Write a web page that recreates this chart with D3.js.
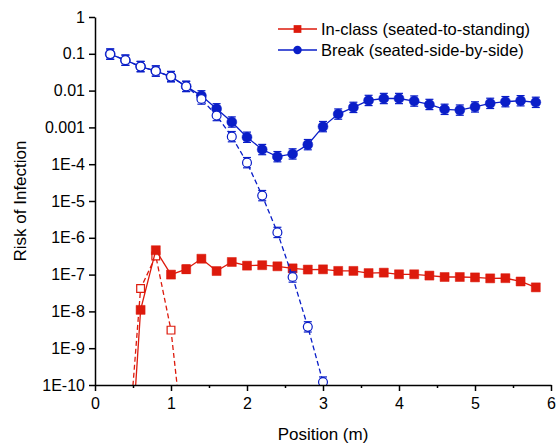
<!DOCTYPE html>
<html><head><meta charset="utf-8">
<script src="https://cdn.jsdelivr.net/npm/d3@7"></script>
<style>body{margin:0;background:#fff}svg{display:block}text{font-family:"Liberation Sans",Arial,sans-serif}</style>
</head><body><svg id="c" width="558" height="448"></svg>
<script>
// ---- data ----
const xTickValues = [0, 1, 2, 3, 4, 5, 6];
const yTickValues = [1, 0.1, 0.01, 0.001, 1e-4, 1e-5, 1e-6, 1e-7, 1e-8, 1e-9, 1e-10];
const yTickLabels = ["1", "0.1", "0.01", "0.001", "1E-4", "1E-5", "1E-6", "1E-7", "1E-8", "1E-9", "1E-10"];
const seriesNames = ["In-class (seated-to-standing)", "Break (seated-side-by-side)"];

const inClassX = [0.4,0.6,0.8,1.0,1.2,1.4,1.6,1.8,2.0,2.2,2.4,2.6,2.8,3.0,3.2,3.4,3.6,3.8,4.0,4.2,4.4,4.6,4.8,5.0,5.2,5.4,5.6,5.8];
const inClassY = [5.5e-15,1.1e-8,4.6e-7,1.0e-7,1.4e-7,2.7e-7,1.25e-7,2.2e-7,1.75e-7,1.8e-7,1.68e-7,1.48e-7,1.37e-7,1.39e-7,1.26e-7,1.26e-7,1.10e-7,1.13e-7,1.02e-7,1.02e-7,9.4e-8,8.6e-8,8.6e-8,8.4e-8,7.9e-8,8.0e-8,6.5e-8,4.5e-8];
const inClassErr = [0.15,0.15,0.15,0.15,0.3,0.15,0.15,0.15,0.15,0.15,0.15,0.15,0.15,0.15,0.15,0.15,0.15,0.15,0.15,0.15,0.15,0.15,0.15,0.15,0.15,0.15,0.15,0.22];

const inClassOpenX = [0.4,0.6,0.8,1.0,1.2];
const inClassOpenY = [2.4e-13,4.2e-8,3.2e-7,3.1e-9,5.8e-13];
const inClassOpenErr = [0.15,0.15,0.15,0.15,0.15];

const breakX = [0.2,0.4,0.6,0.8,1.0,1.2,1.4,1.6,1.8,2.0,2.2,2.4,2.6,2.8,3.0,3.2,3.4,3.6,3.8,4.0,4.2,4.4,4.6,4.8,5.0,5.2,5.4,5.6,5.8];
const breakY = [0.098,0.067,0.045,0.034,0.024,0.013,0.0072,0.0032,0.0014,5.4e-4,2.5e-4,1.6e-4,1.9e-4,3.4e-4,1.05e-3,2.3e-3,3.5e-3,5.4e-3,6.1e-3,6.1e-3,5.2e-3,4.2e-3,3.1e-3,2.95e-3,3.6e-3,4.5e-3,5.0e-3,5.3e-3,4.8e-3];
const breakErr = [0.38,0.38,0.38,0.38,0.38,0.38,0.38,0.38,0.38,0.38,0.38,0.38,0.38,0.38,0.38,0.38,0.38,0.38,0.38,0.38,0.38,0.38,0.38,0.38,0.38,0.38,0.38,0.38,0.38];

const breakOpenX = [0.2,0.4,0.6,0.8,1.0,1.2,1.4,1.6,1.8,2.0,2.2,2.4,2.6,2.8,3.0];
const breakOpenY = [0.098,0.067,0.045,0.034,0.024,0.013,0.0059,0.0021,5.6e-4,1.1e-4,1.4e-5,1.4e-6,8.6e-8,3.8e-9,1.2e-10];
const breakOpenErr = [0.38,0.38,0.38,0.38,0.38,0.38,0.38,0.38,0.38,0.38,0.38,0.38,0.38,0.38,0.38];

// ---- layout ----
const RED = "#dd1a0c", BLUE = "#0a1ec8";
const L = 95, R = 551, T = 17, B = 385;
const svg = d3.select("#c");
const x = d3.scaleLinear().domain([0, 6]).range([L, R]);
const y = d3.scaleLog().domain([1e-10, 1]).range([B, T]);

svg.append("clipPath").attr("id", "clip").append("rect")
  .attr("x", L).attr("y", T - 10).attr("width", R - L + 10).attr("height", B - T + 10);

const zip = (xs, ys, es) => xs.map((v, i) => ({x: v, y: ys[i], e: es[i]}));
const plot = svg.append("g").attr("clip-path", "url(#clip)");

function drawSeries(data, color, dashed, open, shape) {
  const g = plot.append("g");
  const line = d3.line().x(d => x(d.x)).y(d => y(d.y));
  g.append("path").datum(data).attr("d", line).attr("fill", "none")
    .attr("stroke", color).attr("stroke-width", 1.3)
    .attr("stroke-dasharray", dashed ? "5,3" : null);
  const vis = data.filter(d => d.y >= 1e-10);
  const eb = g.selectAll(".eb").data(vis).enter().append("g").attr("stroke", color).attr("stroke-width", 1.2);
  eb.append("line").attr("x1", d => x(d.x)).attr("x2", d => x(d.x))
    .attr("y1", d => y(d.y * (1 + d.e))).attr("y2", d => y(d.y / (1 + d.e)));
  eb.append("line").attr("x1", d => x(d.x) - 4).attr("x2", d => x(d.x) + 4)
    .attr("y1", d => y(d.y * (1 + d.e))).attr("y2", d => y(d.y * (1 + d.e)));
  eb.append("line").attr("x1", d => x(d.x) - 4).attr("x2", d => x(d.x) + 4)
    .attr("y1", d => y(d.y / (1 + d.e))).attr("y2", d => y(d.y / (1 + d.e)));
  const sym = d3.symbol().type(shape === "square" ? d3.symbolSquare : d3.symbolCircle)
    .size(shape === "square" ? (open ? 60 : 81) : (open ? 62 : 78));
  g.selectAll(".m").data(vis).enter().append("path")
    .attr("transform", d => `translate(${x(d.x)},${y(d.y)})`)
    .attr("d", sym)
    .attr("fill", open ? "#fff" : color)
    .attr("stroke", color).attr("stroke-width", open ? 1.2 : 0.5);
}

drawSeries(zip(inClassOpenX, inClassOpenY, inClassOpenErr), RED, true, true, "square");
drawSeries(zip(inClassX, inClassY, inClassErr), RED, false, false, "square");
drawSeries(zip(breakX, breakY, breakErr), BLUE, false, false, "circle");
drawSeries(zip(breakOpenX, breakOpenY, breakOpenErr), BLUE, true, true, "circle");

// ---- axes ----
const xAxis = svg.append("g").attr("transform", `translate(0,${B})`)
  .call(d3.axisBottom(x).tickValues(xTickValues).tickFormat(d3.format("d")).tickSize(6).tickSizeOuter(0));
svg.append("g").attr("transform", `translate(0,${B})`)
  .call(d3.axisBottom(x).tickValues(d3.range(0.5, 6, 1)).tickFormat("").tickSize(3).tickSizeOuter(0))
  .select(".domain").remove();
const yAxis = svg.append("g").attr("transform", `translate(${L},0)`)
  .call(d3.axisLeft(y).tickValues(yTickValues).tickFormat((d, i) => yTickLabels[i]).tickSize(6).tickSizeOuter(0));
[xAxis, yAxis].forEach(a => {
  a.select(".domain").attr("stroke", "#000").attr("stroke-width", 1.5);
  a.selectAll(".tick text").attr("font-size", 16).attr("fill", "#000")
    .style("font-family", '"Liberation Sans", Arial, sans-serif');
});
svg.selectAll("g.tick line").attr("stroke", "#000").attr("stroke-width", 1.5);
xAxis.selectAll(".tick text").attr("dy", "0.95em");
yAxis.selectAll(".tick text").attr("x", -10);

svg.append("text").attr("x", (L + R) / 2).attr("y", 440).attr("text-anchor", "middle")
  .attr("font-size", 17).text("Position (m)");
svg.append("text").attr("transform", `translate(26,${(T + B) / 2}) rotate(-90)`)
  .attr("text-anchor", "middle").attr("font-size", 17).text("Risk of Infection");

// ---- legend ----
const legend = svg.append("g");
[[RED, "square", 29], [BLUE, "circle", 50]].forEach(([c, s, ly], i) => {
  legend.append("line").attr("x1", 278).attr("x2", 317).attr("y1", ly).attr("y2", ly)
    .attr("stroke", c).attr("stroke-width", 1.3);
  legend.append("path").attr("transform", `translate(297.5,${ly})`)
    .attr("d", d3.symbol().type(s === "square" ? d3.symbolSquare : d3.symbolCircle).size(s === "square" ? 60 : 56))
    .attr("fill", c);
  legend.append("text").attr("x", 321).attr("y", ly).attr("dy", "0.35em")
    .attr("font-size", 16.5).text(seriesNames[i]);
});
</script></body></html>
